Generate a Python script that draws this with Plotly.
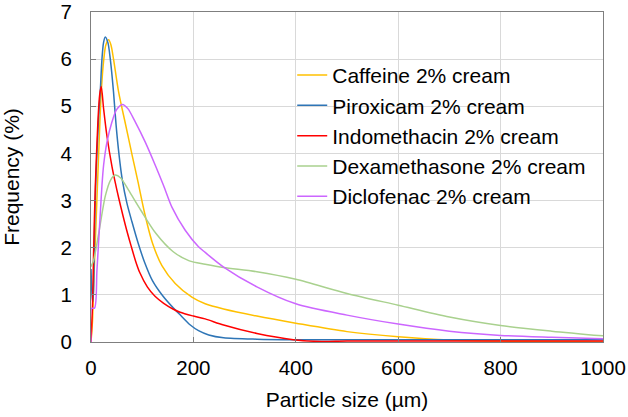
import plotly.graph_objects as go

# Valeurs (taille en µm, fréquence en %)
caffeine_x = [0, 3, 5, 10, 15, 20, 25, 29, 34.4, 39, 44, 54, 67, 80.6, 91.7, 105, 120, 138.5, 164.5,
              197, 223, 259, 324, 400, 500, 600, 700, 800, 900, 1000]
caffeine_y = [0, 0.46, 1.17, 2.58, 4.0, 5.3, 6.0, 6.3, 6.41, 6.3, 6.0, 5.3, 4.64, 3.95, 3.40, 2.72, 2.1, 1.62, 1.24,
              0.95, 0.81, 0.70, 0.55, 0.40, 0.22, 0.11, 0.04, 0.02, 0.01, 0.0]

piroxicam_x = [0, 2, 3.5, 5, 7, 9, 11.6, 15, 18, 21.4, 24.5, 27.9, 33, 37.7, 44, 49, 55, 61, 70, 80, 92, 105,
               120, 140, 161, 172, 194, 210, 230, 259, 324, 400, 600, 800, 1000]
piroxicam_y = [1.55, 1.0, 0.85, 1.1, 2.4, 3.3, 4.0, 4.8, 5.3, 6.0, 6.35, 6.47, 6.35, 6.0, 5.3, 4.6, 3.95, 3.45, 2.95, 2.55, 2.1, 1.68,
               1.3, 0.98, 0.72, 0.60, 0.36, 0.24, 0.15, 0.09, 0.06, 0.05, 0.05, 0.05, 0.05]

indomethacin_x = [0, 3, 5, 8.4, 13.6, 17, 20, 24.6, 31, 41, 47, 54, 62, 70, 78, 87, 95, 110, 125, 142, 160, 174, 200, 223,
                  259, 324, 395, 450, 500, 700, 1000]
indomethacin_y = [0, 0.8, 1.87, 3.29, 4.7, 5.25, 5.42, 4.95, 4.38, 3.72, 3.40, 3.06, 2.70, 2.36, 2.05, 1.72, 1.48, 1.17, 0.97, 0.82, 0.70, 0.63, 0.55, 0.49,
                  0.36, 0.18, 0.05, 0.01, 0.02, 0.02, 0.02]

dexamethasone_x = [0, 5, 15, 28, 38, 47.4, 58, 73.4, 97, 127, 160, 192, 223, 259, 324, 400, 500, 600, 700, 800, 900, 1000]
dexamethasone_y = [1.6, 1.73, 2.3, 3.1, 3.43, 3.54, 3.48, 3.22, 2.8, 2.3, 1.92, 1.72, 1.65, 1.58, 1.49, 1.33, 1.03, 0.78, 0.53, 0.35, 0.23, 0.13]

diclofenac_x = [0, 1, 7, 11.6, 18, 21.4, 24.6, 31.2, 41, 50, 61.7, 72, 86.4, 106, 125.5, 141.7, 158, 184, 210, 223,
                259, 324, 400, 500, 600, 700, 800, 900, 1000]
diclofenac_y = [0, 0.71, 0.72, 1.52, 2.7, 3.32, 3.75, 4.24, 4.67, 4.93, 5.04, 4.95, 4.67, 4.24, 3.75, 3.32, 2.86, 2.37, 2.02, 1.9,
                1.59, 1.17, 0.81, 0.57, 0.38, 0.23, 0.14, 0.10, 0.07]

series_names = ["Caffeine 2% cream", "Piroxicam 2% cream", "Indomethacin 2% cream",
                "Dexamethasone 2% cream", "Diclofenac 2% cream"]
series_x = [caffeine_x, piroxicam_x, indomethacin_x, dexamethasone_x, diclofenac_x]
series_y = [caffeine_y, piroxicam_y, indomethacin_y, dexamethasone_y, diclofenac_y]
series_colors = ["#FFC000", "#2E75B6", "#FF0000", "#A9D18E", "#CC66FF"]

x_ticks = [0, 200, 400, 600, 800, 1000]
y_ticks = [0, 1, 2, 3, 4, 5, 6, 7]

fig = go.Figure()

# Tracer chaque courbe
for name, xs, ys, color in zip(series_names, series_x, series_y, series_colors):
    fig.add_trace(go.Scatter(x=xs, y=ys, name=name, mode="lines",
                             line=dict(color=color, width=1.5, shape="spline", smoothing=0.8)))

axis_style = dict(showline=True, linecolor="#7f7f7f", linewidth=1, mirror=True,
                  showgrid=True, gridcolor="#d9d9d9", gridwidth=1,
                  ticks="inside", ticklen=5, tickcolor="#7f7f7f",
                  zeroline=False, automargin=False,
                  tickfont=dict(size=20.5, color="black"))

fig.update_xaxes(range=[0, 1000], tickvals=x_ticks,
                 title=dict(text="Particle size (µm)", font=dict(size=21, color="black"), standoff=14),
                 ticklabelstandoff=7, **axis_style)
fig.update_yaxes(range=[0, 7], tickvals=y_ticks,
                 title=dict(text="Frequency (%)", font=dict(size=21, color="black"), standoff=35),
                 ticklabelstandoff=14, **axis_style)

fig.update_layout(
    width=628, height=417,
    margin=dict(l=91, r=25, t=12, b=75),
    plot_bgcolor="white", paper_bgcolor="white",
    font=dict(family="Liberation Sans, Arial", color="black"),
    legend=dict(x=0.393, y=0.87, xanchor="left", yanchor="top",
                bgcolor="rgba(0,0,0,0)", font=dict(size=21)),
)

# Enlever la marge du body pour que le graphique commence au coin de la page
fig.write_html("out.html", config={"displayModeBar": False},
               post_script="document.body.style.margin = '0';")
